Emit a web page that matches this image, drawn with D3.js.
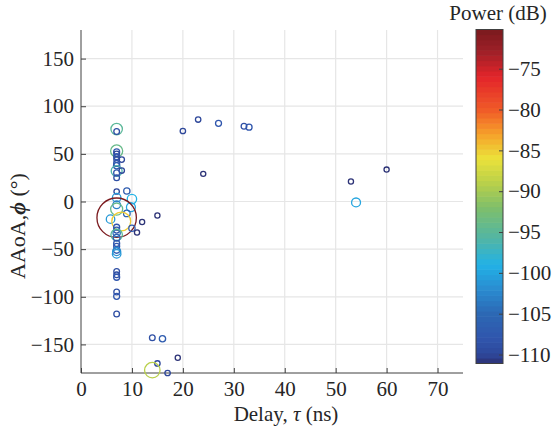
<!DOCTYPE html>
<html>
<head>
<meta charset="utf-8">
<script src="https://cdn.jsdelivr.net/npm/d3@7"></script>
<style>
  body { margin: 0; background: #fff; }
</style>
</head>
<body>
<svg id="chart"></svg>
<script>
// multipath components: delay (ns), azimuth angle of arrival (deg), power (dB)
const delays = [7, 7, 7, 7, 7, 7, 7, 8, 7, 7, 7, 8, 7, 7,
  7, 9, 7, 10, 7, 7, 9.8, 9, 5.8, 7.9, 7, 12, 15, 10, 11,
  7, 7, 7, 7, 7, 7, 7, 7, 7, 7, 7, 7, 7, 7, 7, 7,
  14, 16, 19, 15, 14, 17,
  20, 23, 27, 32, 33, 24, 60, 53, 54];
const angles = [76, 73.5, 53, 52, 50, 47, 44, 44, 40, 37.5, 32, 32.5, 30, 25,
  10.5, 11, 4, 2.5, -3.5, -8, -6, -12.5, -18.5, -21, -17, -21.5, -14.7, -28, -32.5,
  -27, -30, -33, -35, -38, -44, -47, -51, -52.5, -55, -73.5, -77, -79.5, -95, -99.5, -118,
  -143, -144, -164, -170, -177, -180,
  74, 86, 82, 79, 78, 29, 33.5, 21, -1];
const powers = [-95, -109, -94, -108, -110, -108, -109, -110, -108, -107, -96, -110, -108, -109,
  -110, -107, -101, -99, -103, -94, -100, -106, -101, -85, -70.3, -111, -111, -107, -111,
  -108, -108, -104, -95, -106, -108, -108, -107, -102, -101, -109, -109, -108, -109, -108, -109,
  -109, -107, -111, -110, -89, -110,
  -110, -110, -108, -109, -108, -111, -111, -111, -100];

const xTicks = [0, 10, 20, 30, 40, 50, 60, 70];
const yTicks = [-150, -100, -50, 0, 50, 100, 150];
const cTicks = [-110, -105, -100, -95, -90, -85, -80, -75];

// colormap stops (jet-like, muted)
const cStops = [-111.1, -110, -108, -105, -102, -99, -96, -92, -89, -86, -83, -80, -76, -73, -70.2];
const cColors = ['#2d3173', '#2e479a', '#3056ad', '#2c68b4', '#2a8cd0', '#22b2e6', '#4fb5a8', '#7fbf6a',
  '#b9d04a', '#ebe23a', '#f6a02a', '#f05a28', '#e3242a', '#a02028', '#7a1a1e'];

const FONT = '"Liberation Serif", "Times New Roman", Times, serif';

const W = 552, H = 429;
const margin = {top: 30, right: 89, bottom: 56, left: 81};
const width = W - margin.left - margin.right;
const height = H - margin.top - margin.bottom;

const svg = d3.select('#chart').attr('width', W).attr('height', H)
  .style('font-family', FONT);

const x = d3.scaleLinear().domain([0, 75]).range([0, width]);
const y = d3.scaleLinear().domain([-180, 180]).range([height, 0]);
const color = d3.scaleLinear().domain(cStops).range(cColors).clamp(true);
// marker radius grows with linear power
const r = d3.scalePow().exponent(0.217).domain([0, 1e-7]).range([0, 20]);

const chart = svg.append('g').attr('transform', `translate(${margin.left},${margin.top})`);

// gridlines
chart.append('g').selectAll('line').data(xTicks.filter(d => d > 0)).join('line')
  .attr('x1', d => x(d)).attr('x2', d => x(d))
  .attr('y1', 0).attr('y2', height)
  .attr('stroke', '#e6e6e6').attr('stroke-width', 1.2);
chart.append('g').selectAll('line').data(yTicks).join('line')
  .attr('x1', 0).attr('x2', width)
  .attr('y1', d => y(d)).attr('y2', d => y(d))
  .attr('stroke', '#e6e6e6').attr('stroke-width', 1.2);

const styleTicks = g => g.selectAll('.tick text')
  .style('font-size', '21px').style('font-family', FONT).attr('fill', '#262626');

// axes, ticks pointing inward
const xAxis = d3.axisBottom(x).tickValues(xTicks).tickSize(-5).tickPadding(8).tickFormat(d3.format('d'));
const yAxis = d3.axisLeft(y).tickValues(yTicks).tickSize(-5).tickPadding(7)
  .tickFormat(d => d < 0 ? '\u2212' + Math.abs(d) : d);

chart.append('g').attr('transform', `translate(0,${height})`).call(xAxis)
  .attr('font-family', null)
  .call(g => g.select('.domain').attr('d', `M0,0H${width}`).attr('stroke', '#404040'))
  .call(g => g.selectAll('.tick line').attr('stroke', '#404040'))
  .call(styleTicks);
chart.append('g').call(yAxis)
  .attr('font-family', null)
  .call(g => g.select('.domain').attr('d', `M0,0V${height}`).attr('stroke', '#404040'))
  .call(g => g.selectAll('.tick line').attr('stroke', '#404040'))
  .call(styleTicks);

// points
const pts = delays.map((d, i) => ({delay: d, angle: angles[i], power: powers[i]}));
chart.append('g').selectAll('circle').data(pts).join('circle')
  .attr('cx', d => x(d.delay))
  .attr('cy', d => y(d.angle))
  .attr('r', d => r(Math.pow(10, d.power / 10)))
  .attr('fill', 'none')
  .attr('stroke', d => color(d.power))
  .attr('stroke-width', 1.3);

// axis titles
svg.append('text')
  .attr('x', 286).attr('y', 421)
  .attr('text-anchor', 'middle')
  .attr('fill', '#262626')
  .style('font-size', '21px').style('font-family', FONT)
  .html('Delay, <tspan font-style="italic">\u03C4</tspan> (ns)');
svg.append('text')
  .attr('transform', 'translate(25,226) rotate(-90)')
  .attr('text-anchor', 'middle')
  .attr('fill', '#262626')
  .style('font-size', '22px').style('font-family', FONT)
  .html('AAoA,<tspan font-style="italic" font-weight="bold">\u03D5</tspan> (\u00B0)');

// colorbar
const cb = {x: 476, y: 29.5, w: 27, h: 334};
const cy = d3.scaleLinear().domain([cStops[0], cStops[cStops.length - 1]]).range([cb.y + cb.h, cb.y]);
const nBands = 64;
const bands = d3.range(nBands).map(i => cStops[0] + (i + 0.5) * (cStops[cStops.length - 1] - cStops[0]) / nBands);
const bandH = cb.h / nBands;
const cbG = svg.append('g');
cbG.selectAll('rect').data(bands).join('rect')
  .attr('x', cb.x)
  .attr('y', d => cy(d) - bandH / 2 - 0.3)
  .attr('width', cb.w)
  .attr('height', bandH + 0.6)
  .attr('fill', d => color(d));
cbG.append('rect')
  .attr('x', cb.x).attr('y', cb.y).attr('width', cb.w).attr('height', cb.h)
  .attr('fill', 'none').attr('stroke', '#404040').attr('stroke-width', 1);

const cAxis = d3.axisRight(cy).tickValues(cTicks).tickSize(-4).tickPadding(5)
  .tickFormat(d => '\u2212' + Math.abs(d));
svg.append('g').attr('transform', `translate(${cb.x + cb.w},0)`).call(cAxis)
  .attr('font-family', null)
  .call(g => g.select('.domain').remove())
  .call(g => g.selectAll('.tick line').attr('stroke', '#404040'))
  .call(styleTicks);

svg.append('text')
  .attr('x', 498).attr('y', 20)
  .attr('text-anchor', 'middle')
  .attr('fill', '#262626')
  .style('font-size', '21px').style('font-family', FONT)
  .text('Power (dB)');
</script>
</body>
</html>
